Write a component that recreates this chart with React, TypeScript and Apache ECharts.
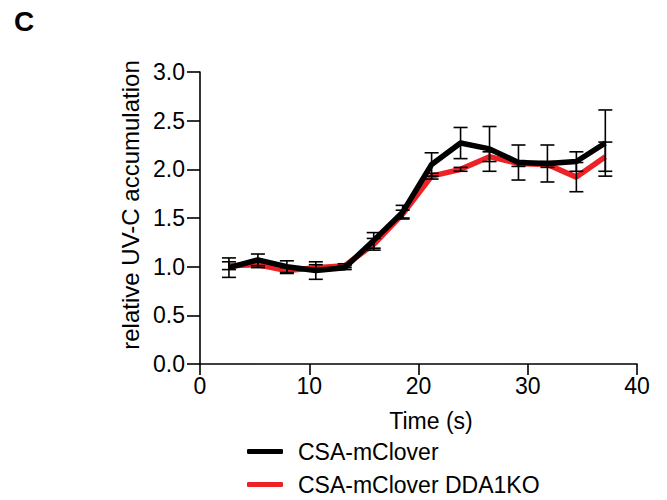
import React, { useEffect, useRef } from "react";
import * as echarts from "echarts";

const times = [2.65, 5.3, 7.95, 10.6, 13.25, 15.9, 18.55, 21.2, 23.85, 26.5, 29.15, 31.8, 34.45, 37.1];
const ctrlMean = [0.99, 1.07, 1.0, 0.96, 0.99, 1.27, 1.56, 2.05, 2.27, 2.21, 2.07, 2.06, 2.08, 2.27];
const ctrlErr = [0.1, 0.06, 0.06, 0.09, 0.02, 0.08, 0.07, 0.12, 0.16, 0.23, 0.18, 0.19, 0.1, 0.34];
const koMean = [1.01, 1.02, 0.96, 0.99, 1.01, 1.23, 1.54, 1.93, 2.0, 2.13, 2.06, 2.05, 1.92, 2.13];
const koErr = [0.04, 0.03, 0.03, 0.03, 0.02, 0.06, 0.04, 0.03, 0.02, 0.05, 0.03, 0.03, 0.15, 0.15];
const seriesNames = ["CSA-mClover", "CSA-mClover DDA1KO"];
const yAxisTitle = "relative UV-C accumulation";
const xAxisTitle = "Time (s)";
const panelLabel = "C";

const FONT = "'Liberation Sans', Arial, Helvetica, sans-serif";

function errorSeries(mean: number[], err: number[]) {
  const data = times.map((t, i) => [t, mean[i] - err[i], mean[i] + err[i]]);
  return {
    type: "custom",
    silent: true,
    z: 10,
    renderItem: (params: any, api: any) => {
      const x = api.value(0);
      const lo = api.coord([x, api.value(1)]);
      const hi = api.coord([x, api.value(2)]);
      const hw = 7;
      const style = { stroke: "#000", lineWidth: 1.6, fill: "none" };
      return {
        type: "group",
        children: [
          { type: "line", shape: { x1: lo[0], y1: lo[1], x2: hi[0], y2: hi[1] }, style },
          { type: "line", shape: { x1: lo[0] - hw, y1: lo[1], x2: lo[0] + hw, y2: lo[1] }, style },
          { type: "line", shape: { x1: hi[0] - hw, y1: hi[1], x2: hi[0] + hw, y2: hi[1] }, style },
        ],
      };
    },
    data,
  };
}

export default function App() {
  const ref = useRef<HTMLDivElement>(null);
  useEffect(() => {
    if (!ref.current) return;
    const chart = echarts.init(ref.current, null, { renderer: "svg" });
    chart.setOption({
      animation: false,
      backgroundColor: "#fff",
      textStyle: { fontFamily: FONT },
      graphic: [
        {
          type: "text",
          x: 14,
          y: 21,
          style: {
            text: panelLabel,
            font: `bold 28px ${FONT}`,
            fill: "#000",
            verticalAlign: "middle",
          },
        },
      ],
      legend: {
        orient: "vertical",
        left: 247,
        top: 440,
        padding: 0,
        itemWidth: 36,
        itemHeight: 5,
        itemGap: 10,
        icon: "roundRect",
        textStyle: {
          fontSize: 23,
          color: "#000",
          fontFamily: FONT,
          lineHeight: 22,
          padding: [0, 0, 0, 10],
        },
        data: seriesNames,
      },
      grid: { left: 200, right: 30, top: 72, bottom: 136, containLabel: false },
      xAxis: {
        type: "value",
        min: 0,
        max: 40,
        interval: 10,
        name: xAxisTitle,
        nameLocation: "middle",
        nameGap: 45,
        nameTextStyle: { fontSize: 23, color: "#000", fontFamily: FONT, padding: [0, 0, 0, 25] },
        axisLine: { show: true, onZero: false, lineStyle: { color: "#000", width: 1.6 } },
        axisTick: { show: true, length: 11, lineStyle: { color: "#000", width: 1.6 } },
        axisLabel: { fontSize: 23, color: "#000", fontFamily: FONT, margin: 10 },
        splitLine: { show: false },
      },
      yAxis: {
        type: "value",
        min: 0,
        max: 3,
        interval: 0.5,
        name: yAxisTitle,
        nameLocation: "middle",
        nameGap: 55,
        nameTextStyle: { fontSize: 24, color: "#000", fontFamily: FONT, padding: [0, 0, 0, 26] },
        axisLine: { show: true, lineStyle: { color: "#000", width: 1.6 } },
        axisTick: { show: true, length: 13, lineStyle: { color: "#000", width: 1.6 } },
        axisLabel: {
          fontSize: 23,
          color: "#000",
          fontFamily: FONT,
          margin: 15,
          formatter: (v: number) => v.toFixed(1),
        },
        splitLine: { show: false },
      },
      series: [
        {
          name: seriesNames[1],
          type: "line",
          data: times.map((t, i) => [t, koMean[i]]),
          showSymbol: false,
          symbol: "none",
          lineStyle: { color: "#ec2227", width: 5.5 },
          itemStyle: { color: "#ec2227" },
          z: 3,
        },
        {
          name: seriesNames[0],
          type: "line",
          data: times.map((t, i) => [t, ctrlMean[i]]),
          showSymbol: false,
          symbol: "none",
          lineStyle: { color: "#000", width: 5.5 },
          itemStyle: { color: "#000" },
          z: 4,
        },
        errorSeries(koMean, koErr),
        errorSeries(ctrlMean, ctrlErr),
      ],
    });
    return () => chart.dispose();
  }, []);
  return (
    <div
      ref={ref}
      style={{ width: 667, height: 500, position: "fixed", left: 0, top: 0 }}
    />
  );
}
